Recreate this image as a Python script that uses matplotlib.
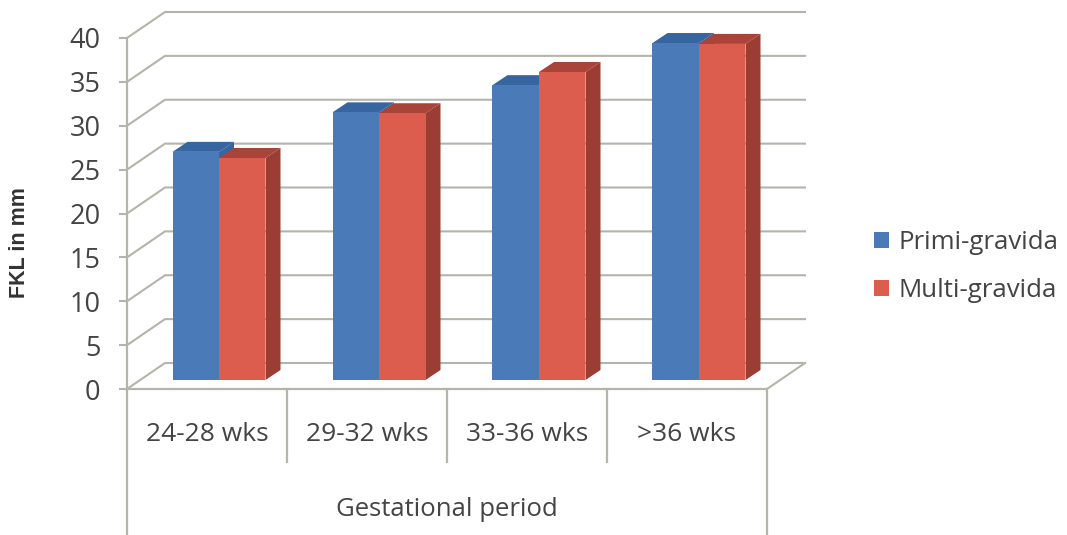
import matplotlib
matplotlib.use("Agg")
import numpy as np
import matplotlib.pyplot as plt
from matplotlib.patches import Polygon

categories = ["24-28 wks", "29-32 wks", "33-36 wks", ">36 wks"]
primi = [26.0, 30.5, 33.6, 38.4]
multi = [25.3, 30.4, 35.1, 38.3]
yticks = [0, 5, 10, 15, 20, 25, 30, 35, 40]

W, H = 1067, 535
LEFT, RIGHT, TOP, BOTTOM = 127, 767, 38, 389

plt.rcParams["font.family"] = ["Open Sans", "DejaVu Sans"]

fig = plt.figure(figsize=(W / 100, H / 100), dpi=100)
ax = fig.add_axes([LEFT / W, 1 - BOTTOM / H, (RIGHT - LEFT) / W, (BOTTOM - TOP) / H])
ax.set_xlim(0, 4)
ax.set_ylim(0, 40)

# px -> data units
ux = 4 / (RIGHT - LEFT)
uy = 40 / (BOTTOM - TOP)

GRID = "#b4b4aa"
TXT = "#444444"

# back wall and left wall
wall_dx = 38 * ux
wall_dy = 26 * uy
for v in yticks:
    ax.plot([0, wall_dx, 4 + wall_dx], [v, v + wall_dy, v + wall_dy], color=GRID, lw=1.5,
            clip_on=False, zorder=1, solid_joinstyle="miter")
ax.plot([4, 4 + wall_dx], [0, wall_dy], color=GRID, lw=1.5, clip_on=False, zorder=1)

# axis lines hanging below the plot
below = -(H - BOTTOM) * uy
sep = -73 * uy
ax.plot([0, 0], [below, 40], color=GRID, lw=1.6, clip_on=False, zorder=2)
ax.plot([4, 4], [below, 0], color=GRID, lw=1.6, clip_on=False, zorder=2)
for i in [1, 2, 3]:
    ax.plot([i, i], [sep, 0], color=GRID, lw=1.6, clip_on=False, zorder=2)
ax.plot([0, 4], [0, 0], color=GRID, lw=1.6, clip_on=False, zorder=2)

# bars, front faces sit a bit behind the front plane
bw = 46.5 * ux
lift = 9 * uy
x0 = np.arange(4) + 45.5 * ux
dep_x = 15 * ux
dep_y = 10 * uy


def draw_bars(xs, vals, front, top, side, label, z):
    ax.bar(xs, vals, bw, bottom=lift, align="edge", color=front, label=label, zorder=z + 1,
           clip_on=False)
    for x, v in zip(xs, vals):
        yt = v + lift
        ax.add_patch(Polygon([(x, yt), (x + dep_x, yt + dep_y), (x + bw + dep_x, yt + dep_y), (x + bw, yt)],
                             closed=True, color=top, zorder=z, clip_on=False, lw=0))
        ax.add_patch(Polygon([(x + bw, lift), (x + bw + dep_x, lift + dep_y), (x + bw + dep_x, yt + dep_y), (x + bw, yt)],
                             closed=True, color=side, zorder=z, clip_on=False, lw=0))


draw_bars(x0, primi, "#4a7ab8", "#36659f", "#36659f", "Primi-gravida", 3)
draw_bars(x0 + bw, multi, "#dc5c4e", "#a8443a", "#9c3d33", "Multi-gravida", 5)

ax.set_yticks(yticks)
ax.set_xticks(np.arange(4) + 0.5)
ax.set_xticklabels(categories)
ax.tick_params(axis="y", length=6, width=1.5, color=GRID, labelsize=19.5, labelcolor=TXT, pad=13)
ax.tick_params(axis="x", length=0, labelsize=19, labelcolor=TXT, pad=24)
for s in ax.spines.values():
    s.set_visible(False)

ax.set_xlabel("Gestational period", fontsize=18.5, color=TXT, labelpad=36)
ax.set_ylabel("FKL in mm", fontsize=15.5, fontweight="bold", family="Liberation Sans", color="#333333")
ax.yaxis.set_label_coords(-0.152, 0.416)

handles, labels = ax.get_legend_handles_labels()
leg = fig.legend(handles, labels, loc="center left", bbox_to_anchor=(866 / W, 1 - 266.5 / H), frameon=False,
                 fontsize=18.6, labelcolor=TXT, handlelength=0.6, handleheight=0.6, handletextpad=0.34,
                 labelspacing=0.9, borderpad=0.3, borderaxespad=0)

fig.savefig("out.png", dpi=100)
